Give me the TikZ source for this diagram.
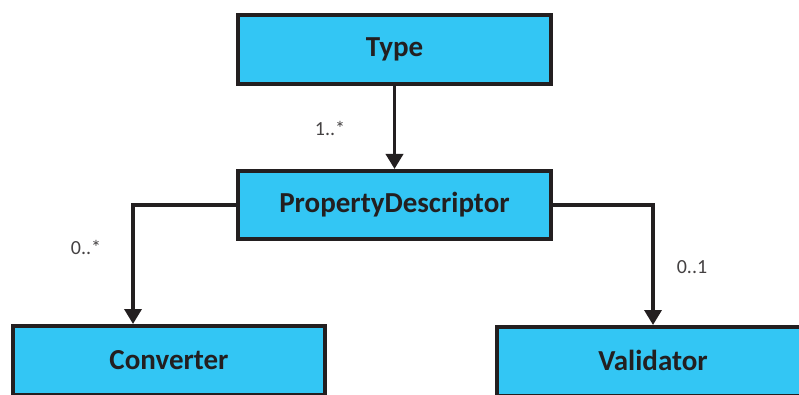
\documentclass[tikz,border=0pt]{standalone}
\usepackage{fontspec}
\setmainfont{Carlito}
\usetikzlibrary{arrows.meta}
\definecolor{boxfill}{HTML}{33C6F4}
\definecolor{ink}{HTML}{231F20}
\begin{document}
\begin{tikzpicture}[x=1pt,y=-1pt,
  cls/.style={draw=ink,fill=boxfill,line width=4pt,minimum width=313pt,minimum height=69pt,inner sep=0pt,font=\fontsize{29}{32}\selectfont\bfseries,text=ink},
  conn/.style={draw=ink,line width=3.5pt,-{Triangle[width=17pt,length=15pt]}},
  mult/.style={font=\fontsize{20}{24}\selectfont,text=ink!85}]
\useasboundingbox (0,0) rectangle (799,395);
\clip (0,0) rectangle (799,395);
\node[cls] (type) at (394.5,49.5) {\raisebox{1.5pt}{Type}};
\node[cls,minimum height=68pt] (pd) at (394.5,205) {\raisebox{1.5pt}{PropertyDescriptor}};
\node[cls,minimum width=312pt] (conv) at (169,360.5) {\raisebox{1.5pt}{Converter}};
\node[cls] (val) at (653,361.5) {\raisebox{1.5pt}{Validator}};
\draw[conn] (type) -- (pd);
\draw[conn] (pd.west) -| ([xshift=-36pt]conv.north);
\draw[conn] (pd.east) -| (val.north);
\node[mult] (m1) at (330,128) {1..*};
\node[mult] (m2) at (86,247) {0..*};
\node[mult] (m3) at (692,267) {0..1};
\end{tikzpicture}
\end{document}
